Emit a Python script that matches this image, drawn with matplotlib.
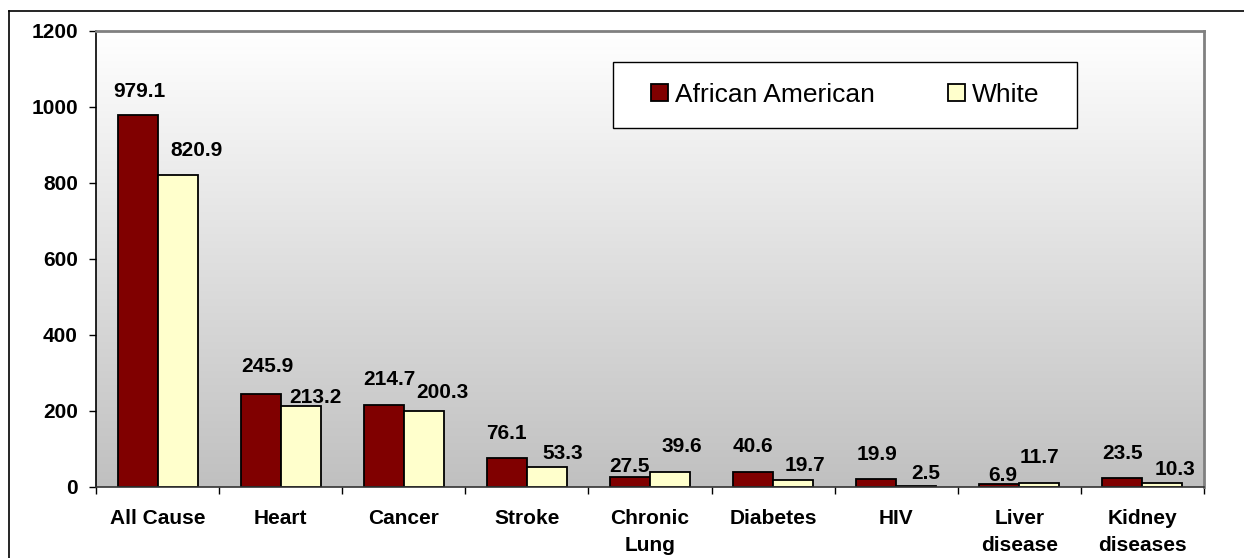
import numpy as np
import matplotlib
matplotlib.use('Agg')
from matplotlib import pyplot as plt
from matplotlib.colors import LinearSegmentedColormap
from matplotlib.patches import Rectangle
from matplotlib.lines import Line2D

plt.rcParams['font.family'] = ['Liberation Sans', 'DejaVu Sans']

causes = ['All Cause', 'Heart', 'Cancer', 'Stroke', 'Chronic\nLung',
          'Diabetes', 'HIV', 'Liver\ndisease', 'Kidney\ndiseases']
african_american = [979.1, 245.9, 214.7, 76.1, 27.5, 40.6, 19.9, 6.9, 23.5]
white = [820.9, 213.2, 200.3, 53.3, 39.6, 19.7, 2.5, 11.7, 10.3]
series_names = ['African American', 'White']

# hand placed label nudges (pixels), like the excel original
aa_nudge = [(2, 23), (7, 27), (6, 26), (0, 25), (0, 10), (0, 25), (1, 25), (3, 9), (0, 25)]
wh_nudge = [(19, 25), (15, 8), (19, 18), (16, 13), (12, 25), (12, 14), (10, 13), (0, 25), (13, 14)]

fig = plt.figure(figsize=(12.44, 5.58), dpi=100)
ax = fig.add_axes([96/1244, 71/558, 1108/1244, 456/558])

# gradient background of the plot area
grad = LinearSegmentedColormap.from_list('bg', ['#c0c0c0', '#ffffff'])
ax.imshow(np.linspace(0, 1, 256).reshape(-1, 1), cmap=grad, aspect='auto',
          extent=[0, 1, 0, 1], transform=ax.transAxes, zorder=0, origin='lower')

x = np.arange(len(causes))
w = 0.325
b1 = ax.bar(x - w/2, african_american, w, color='#800000', edgecolor='black', linewidth=1.3, zorder=2)
b2 = ax.bar(x + w/2, white, w, color='#ffffcc', edgecolor='black', linewidth=1.3, zorder=2)

for bars, vals, nudges in [(b1, african_american, aa_nudge), (b2, white, wh_nudge)]:
    for rect, v, (dx, dy) in zip(bars, vals, nudges):
        ax.annotate(f'{v:.1f}', (rect.get_x() + rect.get_width()/2, v), xytext=(dx, dy),
                    textcoords='offset pixels', ha='center', va='center',
                    fontsize=15, fontweight='bold', zorder=3)

ax.set_xlim(-0.5, len(causes) - 0.5)
ax.set_ylim(0, 1200)
ax.set_yticks(np.arange(0, 1201, 200))
ax.set_xticks(x)
ax.set_xticklabels(causes, fontsize=15, fontweight='bold')
for t in ax.get_xticklabels():
    t.set_linespacing(1.5)
ax.set_xticks(np.arange(-0.5, len(causes)), minor=True)
ax.tick_params(axis='x', which='major', length=0, pad=16)
ax.tick_params(axis='x', which='minor', length=5, width=1, color='black')
ax.tick_params(axis='y', length=5, width=1, pad=8, labelsize=15)
for t in ax.get_yticklabels():
    t.set_fontweight('bold')

ax.spines['top'].set_color('#808080')
ax.spines['right'].set_color('#808080')
ax.spines['top'].set_linewidth(2)
ax.spines['right'].set_linewidth(2)
ax.spines['left'].set_color('black')
ax.spines['bottom'].set_color('#333333')
ax.spines['left'].set_linewidth(1.2)
ax.spines['bottom'].set_linewidth(1.2)

# legend box drawn separately so its padding matches the original
ax.add_patch(Rectangle((0.4666, 0.787), 0.4188, 0.145, transform=ax.transAxes,
                       facecolor='white', edgecolor='black', linewidth=1, zorder=4))
ax.legend([b1, b2], series_names, loc='center', bbox_to_anchor=(0.676, 0.860),
          ncol=2, frameon=False, fontsize=19, handlelength=0.65, handleheight=0.65,
          handletextpad=0.27, columnspacing=2.76, borderpad=0)

# outer chart border (left and top only show in the crop)
fig.add_artist(Line2D([8.5/1244, 8.5/1244], [0, 1 - 10.5/558], color='black', lw=1.2))
fig.add_artist(Line2D([8.5/1244, 1], [1 - 10.5/558, 1 - 10.5/558], color='black', lw=1.2))

fig.savefig('out.png', dpi=100)
